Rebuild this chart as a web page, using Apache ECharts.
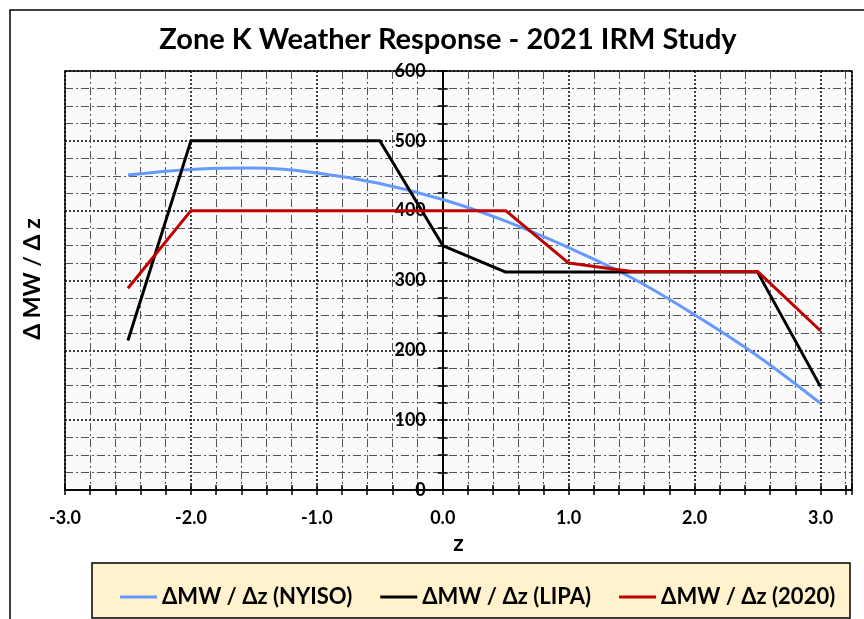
<!DOCTYPE html>
<html>
<head>
    <meta charset="utf-8">
    <title>Zone K Weather Response</title>
    <script src="https://cdn.jsdelivr.net/npm/echarts@6/dist/echarts.min.js"></script>
    <style>
        html, body { margin: 0; padding: 0; background: #fff; }
    </style>
</head>
<body>
    <div id="main" style="width: 864px;height:619px;"></div>
    <script type="text/javascript">
        // data
        var zNyiso = [-2.5, -2.0, -1.5, -1.0, -0.5, 0.0, 0.5, 1.0, 1.5, 2.0, 2.5, 3.0];
        var nyiso  = [451, 459, 461, 454, 439, 416, 385, 347, 304, 251, 192, 124];

        var zLipa = [-2.5, -2.0, -0.5, 0.0, 0.5, 2.5, 3.0];
        var lipa  = [214, 500, 500, 350, 312, 312, 148];

        var z2020 = [-2.5, -2.0, 0.5, 1.0, 1.5, 2.5, 3.0];
        var y2020 = [289, 400, 400, 325, 313, 313, 228];

        var seriesNames = ['ΔMW / Δz (NYISO)', 'ΔMW / Δz (LIPA)', 'ΔMW / Δz (2020)'];

        function pairs(xs, ys) {
            return xs.map(function (x, i) { return [x, ys[i]]; });
        }

        var FONT = 'Lato';
        var dashDot = [8, 3, 2, 3];
        var minorColX = ['transparent', '#555', '#555', '#555', '#555'];
        var minorColY = ['transparent', '#555', '#555', '#555'];

        // plot area and x range
        var gLeft = 65, gRight = 12, gTop = 71, gBottom = 129;
        var xMin = -3, xMax = 3.25;
        // the y axis crosses at z = 0
        var yShift = -(864 - gLeft - gRight) * (0 - xMin) / (xMax - xMin);

        var myChart = echarts.init(document.getElementById('main'));

        var xBase = { type: 'value', min: xMin, max: xMax, position: 'bottom' };
        var yBase = { type: 'value', min: 0, max: 600, position: 'left', offset: yShift };

        var option = {
            animation: false,
            grid: {
                left: gLeft, right: gRight, top: gTop, bottom: gBottom,
                show: true, backgroundColor: '#fafafa',
                borderColor: '#000', borderWidth: 1.5
            },
            legend: {
                data: seriesNames,
                left: 115, top: 581, width: 740,
                icon: 'rect', itemWidth: 37, itemHeight: 3, itemGap: 28,
                textStyle: { fontFamily: FONT, fontWeight: 'bold', fontSize: 22, color: '#000' }
            },
            graphic: [
                { type: 'rect', z: -10, shape: { x: 10, y: 10, width: 900, height: 700 },
                  style: { fill: '#fff', stroke: '#000', lineWidth: 1.5 } },
                { type: 'rect', z: 0, shape: { x: 92, y: 563, width: 758, height: 55 },
                  style: { fill: '#fff2cc', stroke: '#000', lineWidth: 1.5 } },
                { type: 'text', x: 448, y: 40,
                  style: { text: 'Zone K Weather Response - 2021 IRM Study', align: 'center', verticalAlign: 'middle',
                           font: 'bold 29px ' + FONT, fill: '#000' } },
                { type: 'text', x: 33, y: 279, rotation: Math.PI / 2,
                  style: { text: 'Δ MW / Δ z', align: 'center', verticalAlign: 'middle',
                           font: 'bold 23px ' + FONT, fill: '#000' } }
            ],
            xAxis: [
                // minor grid, outward ticks, labels
                Object.assign({}, xBase, {
                    interval: 0.2,
                    axisLine: { onZero: false, lineStyle: { color: '#000', width: 1.5 } },
                    axisTick: { show: true, length: 5, lineStyle: { color: '#000', width: 1.5 } },
                    axisLabel: {
                        margin: 19, fontFamily: FONT, fontWeight: 'bold', fontSize: 18, color: '#000',
                        formatter: function (v) {
                            return Math.abs(v - Math.round(v)) < 1e-6 ? Math.round(v).toFixed(1) : '';
                        }
                    },
                    splitLine: { show: true, lineStyle: { color: minorColX, type: dashDot, width: 1 } },
                    name: 'z', nameLocation: 'middle', nameGap: 36,
                    nameTextStyle: { fontFamily: FONT, fontWeight: 'bold', fontSize: 23, color: '#000' }
                }),
                // inward ticks
                Object.assign({}, xBase, {
                    interval: 0.2,
                    axisLine: { show: false, onZero: false },
                    axisTick: { show: true, inside: true, length: 5, lineStyle: { color: '#000', width: 1.5 } },
                    axisLabel: { show: false },
                    splitLine: { show: false }
                }),
                // major grid
                Object.assign({}, xBase, {
                    interval: 1,
                    axisLine: { show: false, onZero: false },
                    axisTick: { show: false },
                    axisLabel: { show: false },
                    splitLine: { show: true, lineStyle: { color: '#000', type: [2, 2], width: 1.5 } }
                })
            ],
            yAxis: [
                Object.assign({}, yBase, {
                    interval: 25,
                    axisLine: { onZero: false, lineStyle: { color: '#000', width: 2 } },
                    axisTick: { show: true, length: 5, lineStyle: { color: '#000', width: 1.5 } },
                    axisLabel: {
                        margin: 17, fontFamily: FONT, fontWeight: 'bold', fontSize: 18, color: '#000',
                        formatter: function (v) { return v % 100 === 0 ? String(v) : ''; }
                    },
                    splitLine: { show: true, lineStyle: { color: minorColY, type: dashDot, width: 1 } }
                }),
                Object.assign({}, yBase, {
                    interval: 25,
                    axisLine: { show: false, onZero: false },
                    axisTick: { show: true, inside: true, length: 5, lineStyle: { color: '#000', width: 1.5 } },
                    axisLabel: { show: false },
                    splitLine: { show: false }
                }),
                Object.assign({}, yBase, {
                    interval: 100,
                    axisLine: { show: false, onZero: false },
                    axisTick: { show: false },
                    axisLabel: { show: false },
                    splitLine: { show: true, lineStyle: { color: '#000', type: [2, 2], width: 1.5 } }
                })
            ],
            series: [
                {
                    name: seriesNames[0], type: 'line', smooth: 0.4, showSymbol: false,
                    data: pairs(zNyiso, nyiso),
                    lineStyle: { color: '#6699ff', width: 3 }, itemStyle: { color: '#6699ff' }
                },
                {
                    name: seriesNames[1], type: 'line', showSymbol: false,
                    data: pairs(zLipa, lipa),
                    lineStyle: { color: '#000000', width: 3 }, itemStyle: { color: '#000000' }
                },
                {
                    name: seriesNames[2], type: 'line', showSymbol: false,
                    data: pairs(z2020, y2020),
                    lineStyle: { color: '#c00000', width: 3 }, itemStyle: { color: '#c00000' }
                }
            ]
        };

        myChart.setOption(option);
    </script>
</body>
</html>
